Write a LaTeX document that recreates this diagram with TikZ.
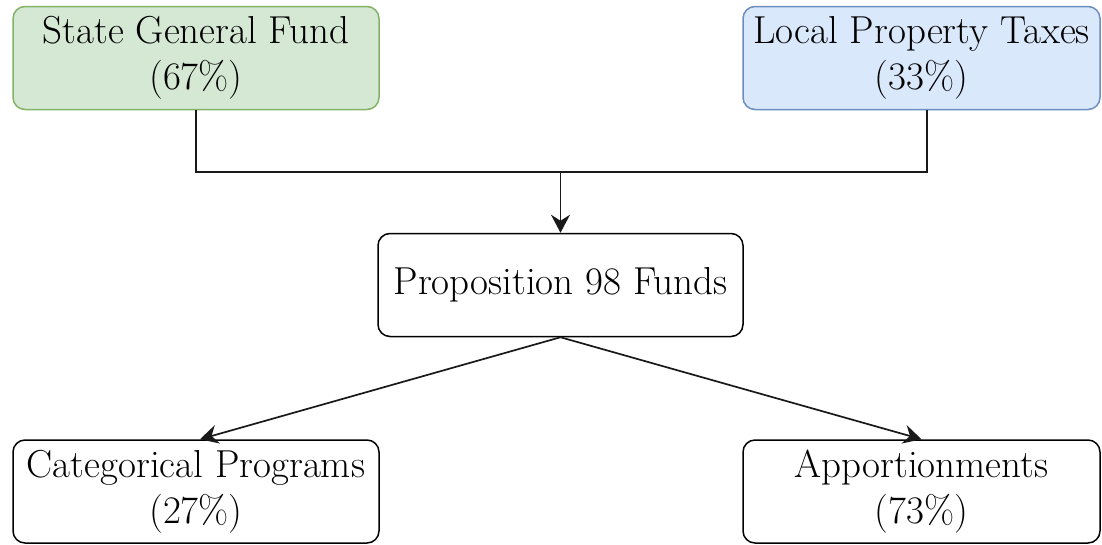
\documentclass[tikz,border=0pt]{standalone}
\usepackage{xcolor}
\usepackage{tikz}
\usetikzlibrary{arrows.meta,positioning}
\definecolor{fundgreen}{HTML}{D5E8D4}
\definecolor{fundgreenline}{HTML}{82B366}
\definecolor{taxblue}{HTML}{DAE8FC}
\definecolor{taxblueline}{HTML}{6C8EBF}
\tikzset{
  fundbox/.style={draw, line width=1.5pt, rounded corners=12pt, align=center,
    minimum height=103pt, inner sep=1pt,
    font=\fontsize{39}{46}\selectfont},
  flow/.style={line width=1.7pt, draw=black!90},
  flowarrow/.style={flow, -{Stealth[length=18pt,width=19pt,inset=6pt]}}
}
\begin{document}
\begin{tikzpicture}[x=1pt,y=-1pt]
            \useasboundingbox (0,0) rectangle (1102,544);
            \node[fundbox, fill=fundgreen, draw=fundgreenline, minimum width=366pt] (state) at (196, 58) {State General Fund\\(67\%)};
            \node[fundbox, fill=taxblue, draw=taxblueline, minimum width=357pt] (local) at (921.5, 58) {Local Property Taxes\\(33\%)};
            \node[fundbox, minimum width=365pt] (prop) at (560.5, 285) {Proposition 98 Funds};
            \node[fundbox, minimum width=366pt] (categ) at (196, 491.5) {Categorical Programs\\(27\%)};
            \node[fundbox, minimum width=357pt] (apport) at (921.5, 491.5) {Apportionments\\(73\%)};
            \coordinate (join) at (560.5, 172);
            \draw[flow] (state.south) |- (join);
            \draw[flow] ([xshift=5.5pt]local.south) |- (join);
            \draw[flowarrow] (join) -- (prop.north);
            \draw[flowarrow] (prop.south) -- ([xshift=4pt]categ.north);
            \draw[flowarrow] (prop.south) -- (apport.north);
        \end{tikzpicture}
\end{document}
